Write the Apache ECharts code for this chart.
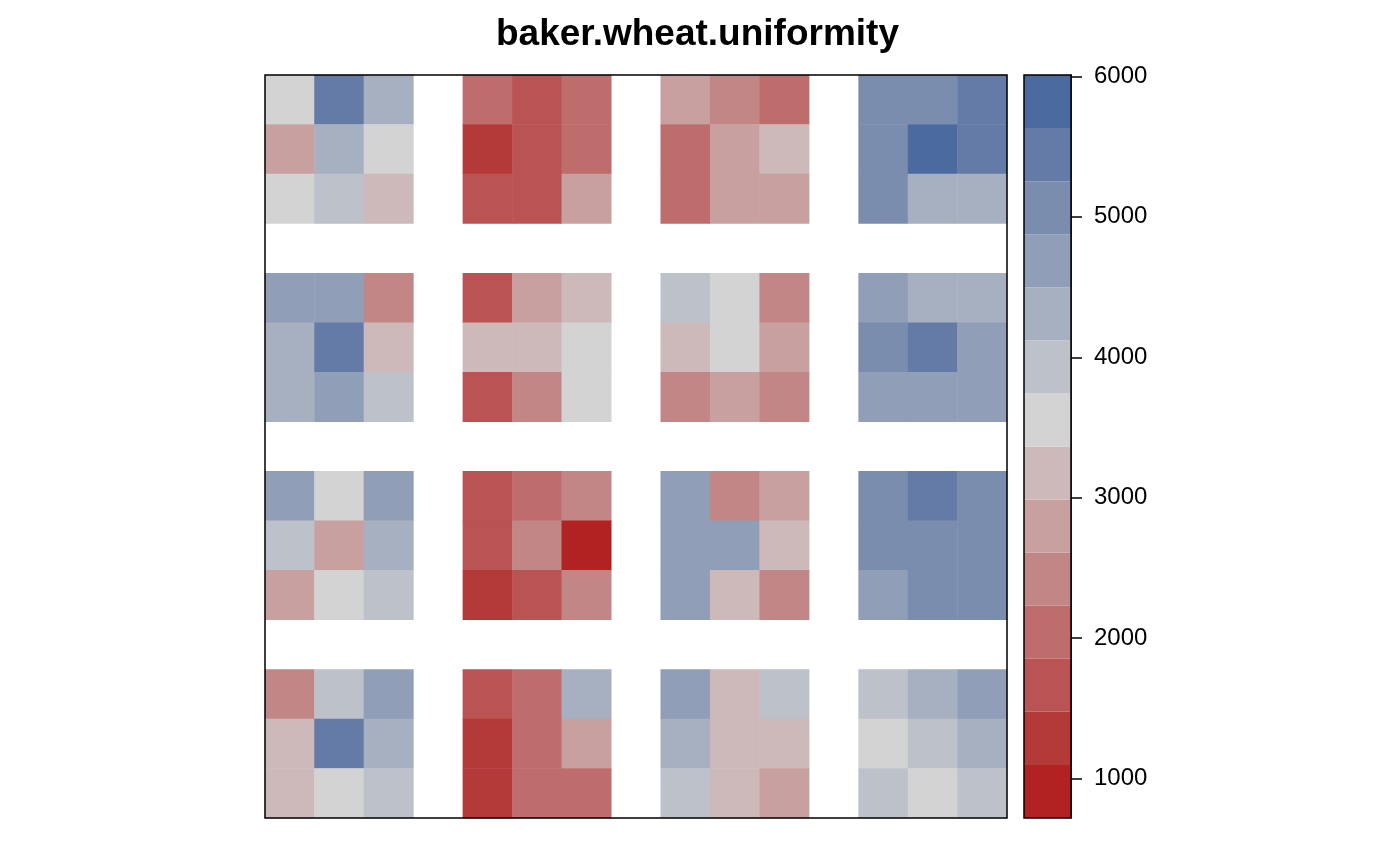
<!DOCTYPE html>
<html>
<head>
<meta charset="utf-8">
<script src="https://cdn.jsdelivr.net/npm/echarts@6/dist/echarts.min.js"></script>
<style>
  html, body { margin: 0; padding: 0; background: #fff; }
  #main { width: 1400px; height: 866px; }
</style>
</head>
<body>
<div id="main"></div>
<script>
// plot layout: 15 x 15 positions, every 4th row/col is an empty alley
const colPos = [0, 1, 2, 4, 5, 6, 8, 9, 10, 12, 13, 14]
const rowPos = [0, 1, 2, 4, 5, 6, 8, 9, 10, 12, 13, 14]

// grain yield per plot (top row first)
const yieldRows = [
  [3550, 5440, 4310, 2040, 1660, 2040, 2800, 2420, 2040, 5070, 5070, 5440],
  [2800, 4310, 3550, 1290, 1660, 2040, 2040, 2800, 3180, 5070, 5820, 5440],
  [3550, 3930, 3180, 1660, 1660, 2800, 2040, 2800, 2800, 5070, 4310, 4310],
  [4690, 4690, 2420, 1660, 2800, 3180, 3930, 3550, 2420, 4690, 4310, 4310],
  [4310, 5440, 3180, 3180, 3180, 3550, 3180, 3550, 2800, 5070, 5440, 4690],
  [4310, 4690, 3930, 1660, 2420, 3550, 2420, 2800, 2420, 4690, 4690, 4690],
  [4690, 3550, 4690, 1660, 2040, 2420, 4690, 2420, 2800, 5070, 5440, 5070],
  [3930, 2800, 4310, 1660, 2420, 900, 4690, 4690, 3180, 5070, 5070, 5070],
  [2800, 3550, 3930, 1290, 1660, 2420, 4690, 3180, 2420, 4690, 5070, 5070],
  [2420, 3930, 4690, 1660, 2040, 4310, 4690, 3180, 3930, 3930, 4310, 4690],
  [3180, 5440, 4310, 1290, 2040, 2800, 4310, 3180, 3180, 3550, 3930, 4310],
  [3180, 3550, 3930, 1290, 2040, 2040, 3930, 3180, 2800, 3930, 3550, 3930],
]

// colour key: 14 equal bands
const bandEdges = [720, 1098, 1476, 1854, 2231, 2609, 2987, 3365, 3743, 4121, 4499, 4877, 5254, 5632, 6010]
const bandColors = [
  '#B22222', '#B43A3A', '#BA5353', '#BE6C6C', '#C38686', '#C8A0A0', '#CDB9B9',
  '#D3D3D3', '#BDC1CA', '#A7B0C1', '#909EB8', '#7A8DAF', '#647BA7', '#4B6A9F',
]
const keyTicks = [1000, 2000, 3000, 4000, 5000, 6000]

const positions = Array.from({ length: 15 }, (_, i) => String(i))

const heatData = []
yieldRows.forEach((row, r) => {
  row.forEach((v, c) => heatData.push([colPos[c], rowPos[r], v]))
})

const pieces = bandColors.map((color, i) => ({
  gte: bandEdges[i],
  lt: bandEdges[i + 1],
  color,
}))

const keyData = bandColors.map((color, i) => [bandEdges[i], bandEdges[i + 1], i])

const chart = echarts.init(document.getElementById('main'), null, { renderer: 'canvas' })

const font = 'Liberation Sans, Arial, sans-serif'

chart.setOption({
  animation: false,
  backgroundColor: '#fff',
  title: {
    text: 'baker.wheat.uniformity',
    left: 491,
    top: 11,
    textStyle: {
      fontFamily: font,
      fontWeight: 'bold',
      fontSize: 37,
      color: '#000',
    },
  },
  grid: [
    {
      left: 265, top: 75, width: 742, height: 743,
      show: true, z: 10, borderColor: '#000', borderWidth: 1.5,
      backgroundColor: 'transparent',
    },
    {
      left: 1024, top: 75, width: 47, height: 743,
      show: true, z: 10, borderColor: '#000', borderWidth: 1.5,
      backgroundColor: 'transparent',
    },
  ],
  xAxis: [
    {
      gridIndex: 0, type: 'category', data: positions,
      axisLine: { show: false }, axisTick: { show: false },
      axisLabel: { show: false }, splitLine: { show: false },
    },
    {
      gridIndex: 1, type: 'value', min: 0, max: 1, show: false,
    },
  ],
  yAxis: [
    {
      gridIndex: 0, type: 'category', data: positions, inverse: true,
      axisLine: { show: false }, axisTick: { show: false },
      axisLabel: { show: false }, splitLine: { show: false },
    },
    {
      gridIndex: 1, type: 'value', position: 'right',
      min: bandEdges[0], max: bandEdges[bandEdges.length - 1],
      splitLine: { show: false },
      axisLine: { show: true, onZero: false, lineStyle: { color: '#000', width: 1.5 } },
      axisTick: {
        show: true, length: 11, customValues: keyTicks,
        lineStyle: { color: '#000', width: 1.5 },
      },
      axisLabel: {
        show: true, customValues: keyTicks, margin: 23,
        color: '#000', fontFamily: font, fontSize: 24,
        formatter: (v) => String(v),
      },
    },
  ],
  visualMap: {
    type: 'piecewise',
    show: false,
    seriesIndex: 0,
    dimension: 2,
    pieces,
  },
  series: [
    {
      type: 'heatmap',
      xAxisIndex: 0,
      yAxisIndex: 0,
      data: heatData,
      itemStyle: { borderWidth: 0 },
      emphasis: { disabled: true },
    },
    {
      type: 'custom',
      xAxisIndex: 1,
      yAxisIndex: 1,
      data: keyData,
      renderItem: (params, api) => {
        const lo = api.value(0)
        const hi = api.value(1)
        const p1 = api.coord([0, hi])
        const p2 = api.coord([1, lo])
        return {
          type: 'rect',
          shape: { x: p1[0], y: p1[1], width: p2[0] - p1[0], height: p2[1] - p1[1] },
          style: { fill: bandColors[api.value(2)] },
        }
      },
    },
  ],
})
</script>
</body>
</html>
